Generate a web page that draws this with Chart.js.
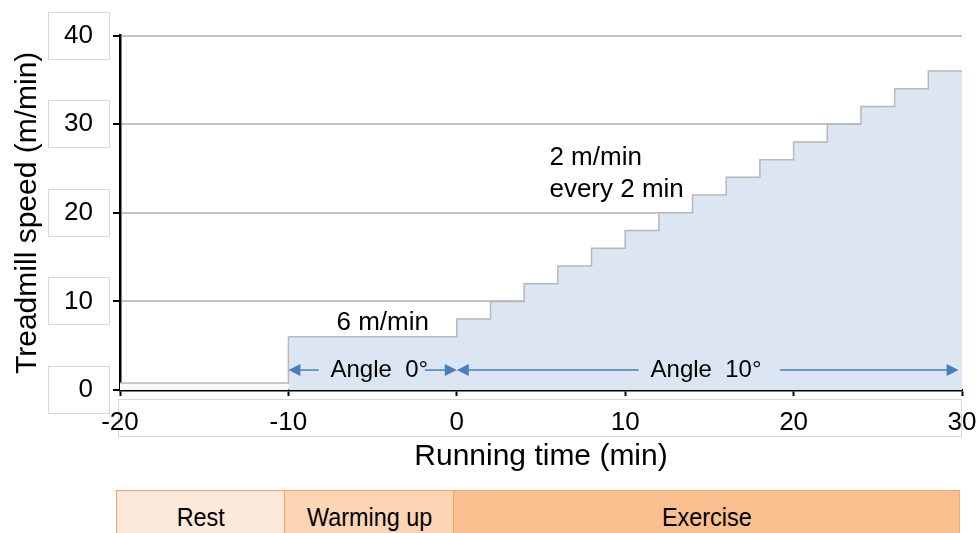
<!DOCTYPE html>
<html>
<head>
<meta charset="utf-8">
<script src="https://cdn.jsdelivr.net/npm/chart.js@4/dist/chart.umd.min.js"></script>
<style>
  body { margin: 0; background: #fff; width: 976px; height: 533px; overflow: hidden; position: relative; }
  #wrap { position: absolute; left: 0; top: 0; width: 976px; height: 475px; }
  .phase { position: absolute; top: 490px; height: 50px; box-sizing: border-box; border: 1px solid #f3a666;
           font-family: "Liberation Sans Narrow", "Arial Narrow", Arial, "Liberation Sans", sans-serif;
           font-size: 26px; color: #000; text-align: center; line-height: 52px; }
  .phase span { display: inline-block; transform: scaleX(0.9); }
</style>
</head>
<body>
<div id="wrap"><canvas id="speedChart"></canvas></div>

<script>
// dados da curva de velocidade (degraus)
const times  = [-20, -10, 0, 2, 4, 6, 8, 10, 12, 14, 16, 18, 20, 22, 24, 26, 28, 30];
const speeds = [0.8, 6, 8, 10, 12, 14, 16, 18, 20, 22, 24, 26, 28, 30, 32, 34, 36, 36];
const xTicks = [-20, -10, 0, 10, 20, 30];
const yTicks = [0, 10, 20, 30, 40];

// fases embaixo do gráfico
const phaseNames  = ['Rest', 'Warming up', 'Exercise'];
const phaseStart  = [-20, -10, 0];
const phaseEnd    = [-10, 0, 30];
const phaseColors = ['#fde9d9', '#fcd5b4', '#f9bf8f'];

const FONT = 'Arial, "Liberation Sans", sans-serif';

// textos, setas e caixinhas dos rótulos
const extras = {
    id: 'extras',
    beforeDraw(chart) {
        const ctx = chart.ctx;
        const x = chart.scales.x, y = chart.scales.y;
        ctx.save();
        ctx.strokeStyle = '#d9d9d9';
        ctx.lineWidth = 1;
        yTicks.forEach(v => {
            const py = y.getPixelForValue(v);
            ctx.strokeRect(48.5, Math.round(py - 24) + 0.5, 61, 47);
        });
        ctx.strokeRect(Math.round(x.left) - 1.5, 399.5, x.right - x.left + 1, 37);
        ctx.restore();
    },
    afterDatasetsDraw(chart) {
        const ctx = chart.ctx;
        const x = chart.scales.x, y = chart.scales.y;
        ctx.save();
        ctx.fillStyle = '#000';
        ctx.font = '26px ' + FONT;
        ctx.textBaseline = 'middle';
        ctx.textAlign = 'center';
        ctx.fillText('6 m/min', x.getPixelForValue(-4.4), y.getPixelForValue(7.6));
        ctx.textAlign = 'left';
        ctx.fillText('2 m/min', x.getPixelForValue(5.5), y.getPixelForValue(26.2));
        ctx.fillText('every 2 min', x.getPixelForValue(5.5), y.getPixelForValue(22.6));

        const ay = y.getPixelForValue(2.25);
        ctx.font = '24px ' + FONT;
        ctx.textAlign = 'center';
        ctx.fillText('Angle  0°', x.getPixelForValue(-4.6), ay);
        ctx.fillText('Angle  10°', x.getPixelForValue(14.8), ay);

        const arrow = (fromV, toV) => {
            const x0 = x.getPixelForValue(fromV), x1 = x.getPixelForValue(toV);
            const dir = Math.sign(x1 - x0);
            ctx.strokeStyle = '#4a7ebb';
            ctx.fillStyle = '#4a7ebb';
            ctx.lineWidth = 1.5;
            ctx.beginPath();
            ctx.moveTo(x0, ay);
            ctx.lineTo(x1 - dir * 10, ay);
            ctx.stroke();
            ctx.beginPath();
            ctx.moveTo(x1, ay);
            ctx.lineTo(x1 - dir * 12, ay - 6);
            ctx.lineTo(x1 - dir * 12, ay + 6);
            ctx.closePath();
            ctx.fill();
        };
        arrow(-8.2, -10);
        arrow(-1.9, 0);
        arrow(10.8, 0);
        arrow(19.2, 29.8);
        ctx.restore();
    }
};

const chart = new Chart(document.getElementById('speedChart').getContext('2d'), {
    type: 'line',
    data: {
        datasets: [{
            data: times.map((t, i) => ({ x: t, y: speeds[i] })),
            stepped: 'before',
            borderColor: '#b7b7b7',
            borderWidth: 1.5,
            backgroundColor: '#dce6f2',
            fill: 'origin',
            pointRadius: 0,
            segment: {
                backgroundColor: c => c.p0.parsed.x < -10 ? '#f8f8f8' : '#dce6f2'
            }
        }]
    },
    options: {
        responsive: true,
        maintainAspectRatio: false,
        animation: false,
        layout: { padding: { top: 34, right: 0, left: 0, bottom: 0 } },
        plugins: { legend: { display: false }, tooltip: { enabled: false } },
        scales: {
            x: {
                type: 'linear',
                min: -20, max: 30,
                afterBuildTicks: s => { s.ticks = xTicks.map(v => ({ value: v })); },
                afterFit: s => { s.height = 85; s.paddingLeft = 0; s.paddingRight = 14; },
                grid: { drawOnChartArea: false, tickLength: 6, tickColor: '#000', tickWidth: 2 },
                border: { color: '#000', width: 2.5 },
                ticks: { color: '#000', font: { size: 26, family: FONT }, padding: 11, maxRotation: 0 },
                title: { display: true, text: 'Running time (min)', color: '#000',
                         font: { size: 30, family: FONT }, padding: { top: 0, bottom: 0 } }
            },
            y: {
                min: 0, max: 40,
                afterBuildTicks: s => { s.ticks = yTicks.map(v => ({ value: v })); },
                afterFit: s => { s.width = 120; },
                grid: {
                    color: c => c.tick && c.tick.value === 0 ? 'rgba(0,0,0,0)' : '#c4c4c4',
                    lineWidth: 2, tickLength: 7, tickColor: '#000', tickWidth: 2
                },
                border: { color: '#000', width: 2.5 },
                ticks: { color: '#000', font: { size: 26, family: FONT }, padding: 20 },
                title: { display: true, text: 'Treadmill speed (m/min)', color: '#000',
                         font: { size: 30, family: FONT }, padding: { top: 10, bottom: 0 } }
            }
        }
    },
    plugins: [extras]
});

// barra das fases, alinhada com o eixo x
phaseNames.forEach((name, i) => {
    const d = document.createElement('div');
    d.className = 'phase';
    const l = chart.scales.x.getPixelForValue(phaseStart[i]) - 4;
    const r = chart.scales.x.getPixelForValue(phaseEnd[i]) - 2;
    d.style.left = l + 'px';
    d.style.width = (r - l) + 'px';
    d.style.background = phaseColors[i];
    const s = document.createElement('span');
    s.textContent = name;
    d.appendChild(s);
    document.body.appendChild(d);
});
</script>
</body>
</html>
